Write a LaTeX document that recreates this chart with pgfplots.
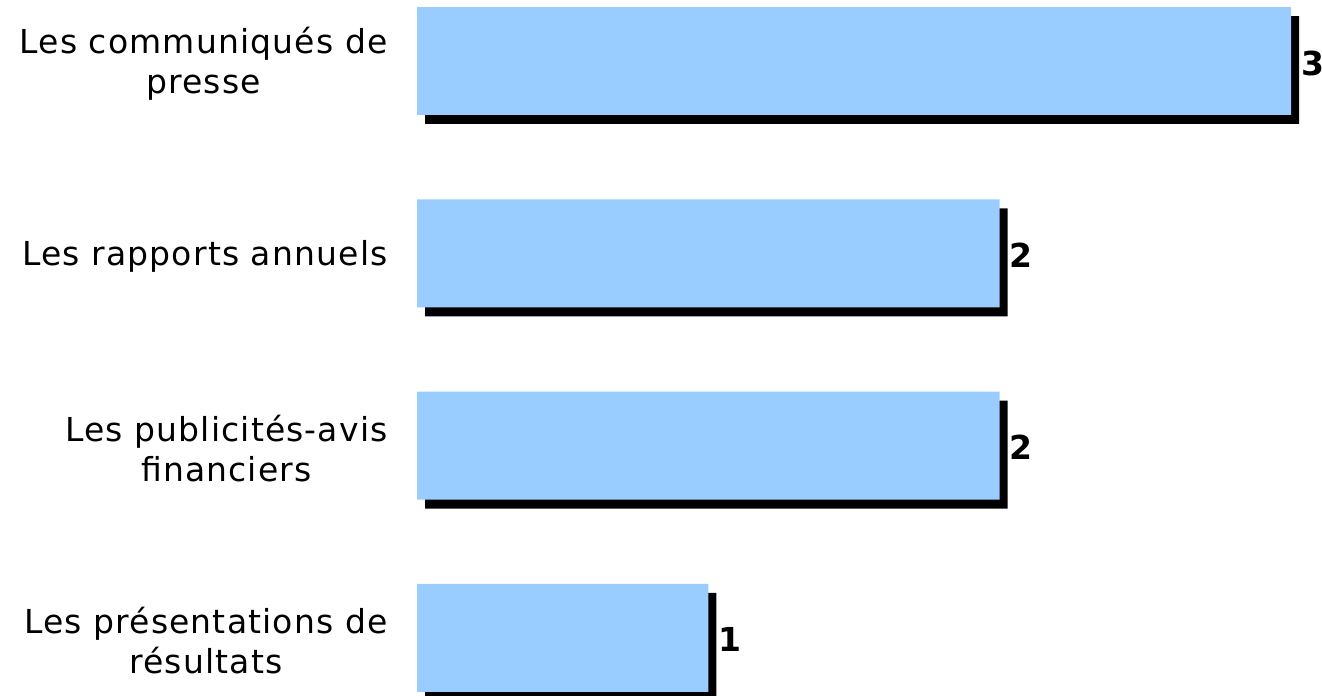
\documentclass[border=0pt]{standalone}
\usepackage{pgfplots}
\pgfplotsset{compat=1.18}
\usepackage{fontspec}
\setmainfont[LetterSpace=3.5]{DejaVu Sans}
\definecolor{barblue}{RGB}{153,204,255}
\begin{document}
\begin{tikzpicture}
\begin{axis}[
  xbar, scale only axis, width=1322pt, height=696pt,
  xmin=-1.4314, xmax=3.1064,
  ymin=-0.3172, ymax=3.3021, y dir=reverse,
  bar width=0.5616,
  axis line style={draw=none}, tick style={draw=none},
  xtick=\empty, ytick={0,1,2,3},
  yticklabels={{Les communiqués de\\presse},{Les rapports annuels},{Les publicités-avis\\financiers},{Les présentations de\\résultats}},
  yticklabel style={align=center, anchor=east, inner sep=0pt, xshift=392pt, yshift=-3pt, font=\fontsize{33}{40}\selectfont},
  clip=false,
]
\addplot[fill=black, draw=none, bar shift=0pt, xshift=8pt, yshift=-9pt] coordinates {(3,0) (2,1) (2,2) (1,3)};
\addplot[fill=barblue, draw=none, bar shift=0pt,
  nodes near coords={\pgfmathprintnumber[assume math mode=true]{\pgfplotspointmeta}},
  nodes near coords style={anchor=west, inner sep=0pt, xshift=10pt, yshift=-2pt, font=\fontsize{33}{40}\selectfont\bfseries}]
  coordinates {(3,0) (2,1) (2,2) (1,3)};
\end{axis}
\pgfresetboundingbox
\useasboundingbox (current axis.south west) rectangle (current axis.north east);
\end{tikzpicture}
\end{document}
